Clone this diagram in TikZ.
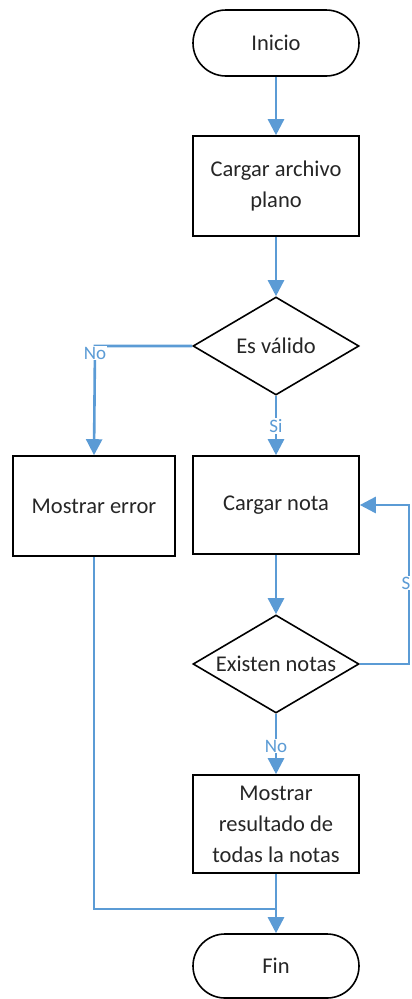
\documentclass[tikz,border=0pt]{standalone}
\usepackage{fontspec}
\setmainfont{Carlito}
\usetikzlibrary{arrows.meta,shapes.geometric}
\definecolor{flowblue}{HTML}{5B9BD5}
\begin{document}
\begin{tikzpicture}[x=1pt,y=-1pt,
  txt/.style={font=\fontsize{22.5}{31}\selectfont, text=black!85},
  term/.style={txt, draw=black, line width=1.6pt, rounded corners=33pt, minimum width=166pt, minimum height=66pt, fill=white},
  procbox/.style={txt, draw=black, line width=1.6pt, minimum width=166pt, minimum height=100pt, align=center, fill=white},
  decision/.style={txt, draw=black, line width=1.6pt, diamond, aspect=1.69, minimum width=166pt, minimum height=98pt, inner sep=0pt, fill=white},
  conn/.style={draw=flowblue, line width=2.6pt, -{Triangle[length=16pt,width=16pt]}},
  connplain/.style={draw=flowblue, line width=2.6pt},
  lbl/.style={font=\fontsize{19}{22}\selectfont, text=flowblue, fill=white, inner sep=1pt}
]
\useasboundingbox (0,0) rectangle (412,999);
\node[term] (inicio) at (276,43) {Inicio};
\node[procbox] (cargar) at (276,186) {Cargar archivo\\plano};
\node[decision] (valido) at (276,346) {Es válido};
\node[procbox, minimum width=162pt] (error) at (94,506) {Mostrar error};
\node[procbox, minimum height=98pt] (nota) at (276,505) {Cargar nota};
\node[decision] (existen) at (276,664) {Existen notas};
\node[procbox, minimum height=98pt] (result) at (276,824) {Mostrar\\resultado de\\todas la notas};
\node[term, minimum height=64pt, rounded corners=32pt] (fin) at (276,966) {Fin};

\coordinate (nocorner) at (95,346);
\coordinate (scorner1) at (409,664);
\coordinate (scorner2) at (409,505);
\coordinate (merge) at (94,909);
\coordinate (mergeend) at (276,909);

\draw[conn] (inicio) -- (cargar);
\draw[conn] (cargar) -- (valido);
\draw[conn] (valido.west) -- (nocorner) -- (error.north);
\draw[conn] (valido) -- (nota);
\draw[conn] (nota) -- (existen);
\draw[conn] (existen.east) -- (scorner1) -- (scorner2) -- (nota.east);
\draw[conn] (existen) -- (result);
\draw[conn] (result) -- (fin);
\draw[connplain] (error.south) -- (merge) -- (mergeend);

\node[lbl] (lno1) at (95,353) {No};
\node[lbl] (lsi1) at (276,426) {Si};
\node[lbl] (lsi2) at (406,583) {S};
\node[lbl] (lno2) at (276,746) {No};
\end{tikzpicture}
\end{document}
